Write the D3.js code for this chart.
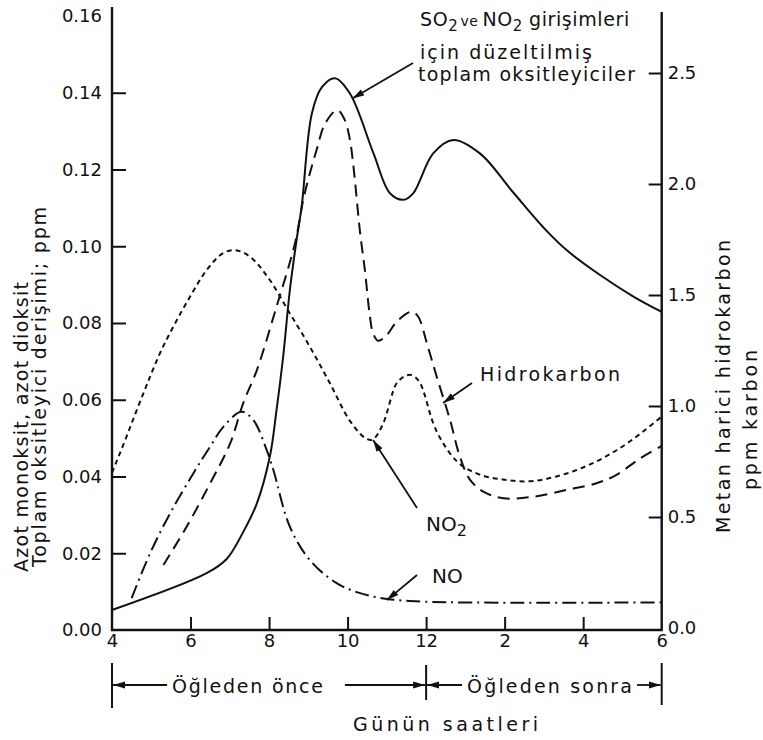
<!DOCTYPE html>
<html>
<head>
<meta charset="utf-8">
<script src="https://cdn.jsdelivr.net/npm/d3@7"></script>
<style>
  html, body { margin: 0; background: #fff; }
  svg { display: block; }
</style>
</head>
<body>
<svg id="chart" width="763" height="740"></svg>
<script>
// Hour of day (4 = 4 a.m., 18 = 6 p.m.) and tick labels
const hourTicks = [4, 6, 8, 10, 12, 14, 16, 18];
const hourTickLabels = ["4", "6", "8", "10", "12", "2", "4", "6"];
const leftTicks = [0, 0.02, 0.04, 0.06, 0.08, 0.10, 0.12, 0.14, 0.16];
const rightTicks = [0, 0.5, 1.0, 1.5, 2.0, 2.5];

// Total oxidants corrected for SO2 and NO2 (ppm, left axis)
const oxidantHours = [4, 6.41, 6.92, 7.34, 7.69, 8.02, 8.19, 8.36, 8.53, 8.70, 8.83, 9.09, 9.35, 9.68, 10.06, 10.66, 11.08, 11.42, 11.67, 12.18, 12.69, 13.37, 14.22, 15.07, 15.6, 16.43, 17.28, 18];
const oxidantPpm   = [0.0052, 0.0148, 0.0185, 0.0255, 0.0330, 0.0452, 0.0573, 0.0713, 0.0886, 0.1016, 0.1103, 0.1346, 0.1415, 0.1438, 0.1398, 0.1242, 0.1138, 0.1121, 0.1138, 0.1242, 0.1277, 0.1242, 0.1140, 0.1040, 0.0988, 0.0925, 0.0869, 0.0829];

// Non-methane hydrocarbons (ppm carbon, right axis)
const hcHours = [5.31, 5.90, 6.50, 7.01, 7.34, 7.69, 8.19, 8.66, 8.87, 9.04, 9.21, 9.43, 9.74, 9.93, 10.06, 10.15, 10.32, 10.44, 10.57, 10.65, 10.78, 11.0, 11.25, 11.63, 11.80, 12.02, 12.27, 12.61, 12.86, 13.12, 13.46, 13.97, 14.72, 15.58, 16.34, 16.85, 17.45, 18];
const hcPpmC  = [0.284, 0.456, 0.652, 0.832, 1.012, 1.162, 1.447, 1.733, 1.928, 2.048, 2.153, 2.273, 2.333, 2.288, 2.198, 2.078, 1.778, 1.613, 1.402, 1.327, 1.294, 1.32, 1.38, 1.425, 1.402, 1.282, 1.132, 0.937, 0.772, 0.667, 0.614, 0.584, 0.591, 0.622, 0.652, 0.69, 0.764, 0.82];

// Nitrogen dioxide (ppm, left axis)
const no2Hours = [4, 4.37, 4.63, 4.97, 5.22, 5.56, 5.99, 6.41, 6.83, 7.09, 7.51, 8.02, 8.53, 9.04, 9.55, 10.06, 10.6, 10.91, 11.25, 11.59, 11.85, 12.18, 12.61, 13.29, 14.05, 14.48, 15.58, 16.86, 18];
const no2Ppm   = [0.041, 0.0504, 0.0573, 0.066, 0.0721, 0.079, 0.0869, 0.0938, 0.0982, 0.099, 0.0973, 0.0912, 0.0825, 0.0738, 0.0643, 0.0545, 0.0495, 0.0539, 0.0643, 0.0665, 0.0643, 0.0539, 0.046, 0.0408, 0.0391, 0.0387, 0.0408, 0.0469, 0.0556];

// Nitric oxide (ppm, left axis)
const noHours = [4.50, 4.97, 5.48, 6.07, 6.50, 6.84, 7.30, 7.60, 7.94, 8.11, 8.53, 9.04, 9.72, 10.32, 11.0, 11.93, 14.39, 18];
const noPpm   = [0.0083, 0.020, 0.0304, 0.0408, 0.0478, 0.053, 0.0569, 0.0547, 0.0469, 0.0417, 0.0269, 0.0182, 0.0122, 0.0096, 0.0081, 0.0074, 0.0071, 0.0072];

const FONT = "'DejaVu Sans', sans-serif";
const INK = "#111";

const svg = d3.select("#chart");

const x = d3.scaleLinear().domain([4, 18]).range([112, 661.7]);
const yL = d3.scaleLinear().domain([0, 0.16]).range([630, 16]);
const yR = d3.scaleLinear().domain([0, 2.5]).range([628, 73]);

// Arrowhead marker
const defs = svg.append("defs");
defs.append("marker")
  .attr("id", "arrow")
  .attr("viewBox", "0 0 12 8")
  .attr("refX", 12).attr("refY", 4)
  .attr("markerWidth", 12).attr("markerHeight", 8)
  .attr("markerUnits", "userSpaceOnUse")
  .attr("orient", "auto")
  .append("path").attr("d", "M0,0.5 L12,4 L0,7.5 Z").attr("fill", INK);

// ---- Axes ----
function styleAxis(g) {
  g.select(".domain").remove();
  g.attr("font-family", FONT).attr("font-size", 18);
  g.selectAll(".tick line").attr("stroke", INK).attr("stroke-width", 2);
  g.selectAll(".tick text").attr("fill", INK);
}

const gLeft = svg.append("g").attr("transform", `translate(${x(4)},0)`)
  .call(d3.axisLeft(yL).tickValues(leftTicks).tickFormat(d3.format(".2f"))
    .tickSizeInner(-14).tickSizeOuter(0).tickPadding(10));
styleAxis(gLeft);
gLeft.selectAll(".tick").filter(d => d === 0 || d === 0.16).select("line").remove();

const gRight = svg.append("g").attr("transform", `translate(${x(18)},0)`)
  .call(d3.axisRight(yR).tickValues(rightTicks).tickFormat(d3.format(".1f"))
    .tickSizeInner(-13).tickSizeOuter(0).tickPadding(6));
styleAxis(gRight);
gRight.selectAll(".tick").filter(d => d === 0).select("line").remove();

const gBottom = svg.append("g").attr("transform", `translate(0,${yL(0)})`)
  .call(d3.axisBottom(x).tickValues(hourTicks).tickFormat((d, i) => hourTickLabels[i])
    .tickSizeInner(-13).tickSizeOuter(0).tickPadding(4));
styleAxis(gBottom);
gBottom.selectAll(".tick").filter(d => d === 4 || d === 18).select("line").remove();

// Axis lines (left, bottom, right)
svg.append("path")
  .attr("d", `M${x(4)},7 V${yL(0)} H${x(18)} V12`)
  .attr("fill", "none").attr("stroke", INK).attr("stroke-width", 2.4);

// ---- Curves ----
const smooth = d3.curveCatmullRom.alpha(0.5);
const lineL = d3.line().x(d => x(d[0])).y(d => yL(d[1])).curve(smooth);
const lineR = d3.line().x(d => x(d[0])).y(d => yR(d[1])).curve(smooth);
const lineLm = d3.line().x(d => x(d[0])).y(d => yL(d[1])).curve(d3.curveMonotoneX);

svg.append("path").datum(d3.zip(oxidantHours, oxidantPpm))
  .attr("d", lineL).attr("fill", "none").attr("stroke", INK).attr("stroke-width", 2);

svg.append("path").datum(d3.zip(hcHours, hcPpmC))
  .attr("d", lineR).attr("fill", "none").attr("stroke", INK).attr("stroke-width", 2)
  .attr("stroke-dasharray", "12,7");

svg.append("path").datum(d3.zip(no2Hours, no2Ppm))
  .attr("d", lineLm).attr("fill", "none").attr("stroke", INK).attr("stroke-width", 2)
  .attr("stroke-dasharray", "5,4");

svg.append("path").datum(d3.zip(noHours, noPpm))
  .attr("d", lineL).attr("fill", "none").attr("stroke", INK).attr("stroke-width", 2)
  .attr("stroke-dasharray", "14,5,2,5");

// ---- Leader arrows to the curves ----
function leader(x1, y1, x2, y2) {
  svg.append("line")
    .attr("x1", x1).attr("y1", y1).attr("x2", x2).attr("y2", y2)
    .attr("stroke", INK).attr("stroke-width", 1.8)
    .attr("marker-end", "url(#arrow)");
}
leader(413, 63, x(10.12), yL(0.1385));
leader(472, 383, x(12.43), yR(1.014));
leader(417, 508, x(10.65), yL(0.0495));
leader(417, 575, x(11.0), yL(0.0078));

// ---- Text helpers ----
function label(txt, px, py, opts = {}) {
  const t = svg.append("text")
    .attr("x", px).attr("y", py)
    .attr("font-family", FONT)
    .attr("font-size", opts.size || 19)
    .attr("fill", INK)
    .text(txt);
  if (opts.len) t.attr("textLength", opts.len).attr("lengthAdjust", "spacing");
  if (opts.anchor) t.attr("text-anchor", opts.anchor);
  return t;
}
function vlabel(txt, px, py, len, size) {
  svg.append("text")
    .attr("transform", `translate(${px},${py}) rotate(-90)`)
    .attr("font-family", FONT).attr("font-size", size || 19)
    .attr("fill", INK)
    .attr("textLength", len).attr("lengthAdjust", "spacing")
    .text(txt);
}

// Oxidant annotation (subscripts flow inline)
const t1 = svg.append("text").attr("x", 420).attr("y", 26)
  .attr("font-family", FONT).attr("font-size", 19).attr("fill", INK)
  .attr("letter-spacing", 0.6);
t1.append("tspan").text("SO");
t1.append("tspan").attr("dy", 5).attr("font-size", 15).text("2");
t1.append("tspan").attr("dy", -5).attr("font-size", 14).attr("dx", 2).text("ve");
t1.append("tspan").attr("dx", 4).text("NO");
t1.append("tspan").attr("dy", 5).attr("font-size", 15).text("2");
t1.append("tspan").attr("dy", -5).attr("dx", 6).text("girişimleri");
label("için düzeltilmiş", 420, 59, { len: 172 });
label("toplam oksitleyiciler", 418, 81, { len: 217 });

label("Hidrokarbon", 480, 381, { len: 140 });

const t2 = svg.append("text").attr("x", 426).attr("y", 531)
  .attr("font-family", FONT).attr("font-size", 20).attr("fill", INK);
t2.append("tspan").text("NO");
t2.append("tspan").attr("dy", 5).attr("font-size", 16).text("2");

label("NO", 432, 583, { size: 20 });

// Axis titles
vlabel("Azot monoksit, azot dioksit", 28, 572, 290);
vlabel("Toplam oksitleyici derişimi; ppm", 46, 567, 360);
vlabel("Metan harici hidrokarbon", 730, 533, 293);
vlabel("ppm karbon", 757, 490, 140);

// ---- Morning / afternoon brackets ----
const bracketY = 685;
[[x(4), 663, 708], [x(12), 665, 700], [x(18), 663, 705]].forEach(([bx, y1, y2]) => {
  svg.append("line").attr("x1", bx).attr("x2", bx).attr("y1", y1).attr("y2", y2)
    .attr("stroke", INK).attr("stroke-width", 2);
});
function hArrow(from, to) {
  svg.append("line").attr("x1", from).attr("x2", to).attr("y1", bracketY).attr("y2", bracketY)
    .attr("stroke", INK).attr("stroke-width", 1.8).attr("marker-end", "url(#arrow)");
}
hArrow(167, x(4) + 1);
hArrow(345, x(12) - 1);
hArrow(462, x(12) + 1);
hArrow(637, x(18) - 1);

label("Öğleden önce", 172, 693, { len: 151 });
label("Öğleden sonra", 467, 693, { len: 165 });
label("Günün saatleri", 353, 731, { len: 185 });
</script>
</body>
</html>
